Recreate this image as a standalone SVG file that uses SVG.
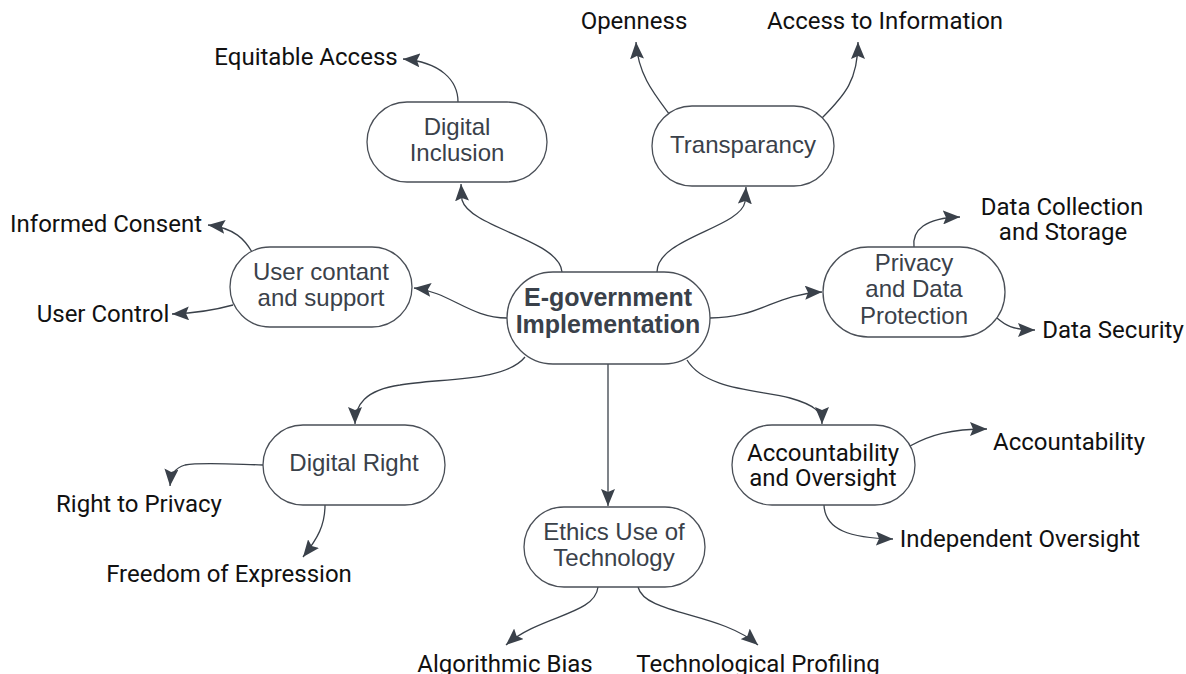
<svg xmlns="http://www.w3.org/2000/svg" width="1186" height="674" viewBox="0 0 1186 674">
  <style>
    .node rect { fill: #ffffff; stroke: #4a4f57; stroke-width: 1.3; }
    .lbl { font-family: "Liberation Sans", Arial, sans-serif; font-size: 24px; fill: #3a414a; text-anchor: middle; }
    .lbl-b { font-family: "Liberation Sans", Arial, sans-serif; font-size: 25px; font-weight: bold; fill: #3a414a; text-anchor: middle; }
    .lbl-r { font-family: Roboto, "Liberation Sans", sans-serif; font-size: 24px; fill: #111111; text-anchor: middle; }
    .leaf { font-family: Roboto, "Liberation Sans", sans-serif; font-size: 24px; fill: #111111; text-anchor: middle; }
    .edge { fill: none; stroke: #3a414a; stroke-width: 1.3; marker-end: url(#arrow); }
  </style>
  <defs>
    <marker id="arrow" markerUnits="userSpaceOnUse" markerWidth="18" markerHeight="14" refX="17" refY="7" orient="auto">
      <path d="M0,0 L17,7 L0,14 L3,7 Z" fill="#3a414a"/>
    </marker>
  </defs>
  <rect width="1186" height="674" fill="#ffffff"/>

  <!-- connectors -->
  <g id="connectors">
    <!-- hub to topics -->
    <path class="edge" d="M562,272 C560,240 470,228 462,200 L461,184"/>
    <path class="edge" d="M657,272 C657,238 740,228 745,202 L746,187"/>
    <path class="edge" d="M507,318 C470,318 450,292 414,288"/>
    <path class="edge" d="M710,318 C760,318 775,294 822,292"/>
    <path class="edge" d="M525,357 C505,382 440,378 400,385 C365,390 355,405 355,424"/>
    <path class="edge" d="M608,364 L608,506"/>
    <path class="edge" d="M687,360 C705,390 760,390 790,398 C815,405 822,412 822,424"/>
    <!-- topics to details -->
    <path class="edge" d="M458,102 C458,80 440,62 403,59"/>
    <path class="edge" d="M670,115 C655,95 638,75 636,42"/>
    <path class="edge" d="M822,118 C845,95 858,80 858,42"/>
    <path class="edge" d="M252,252 C245,240 235,228 208,225"/>
    <path class="edge" d="M233,305 C215,310 200,313 172,314"/>
    <path class="edge" d="M914,247 C912,230 925,218 960,217"/>
    <path class="edge" d="M997,318 C1005,325 1012,330 1035,330"/>
    <path class="edge" d="M263,465 C230,464 200,462 185,465 C175,468 171,474 170,486"/>
    <path class="edge" d="M325,505 C325,525 318,538 303,557"/>
    <path class="edge" d="M598,587 C595,615 540,615 506,645"/>
    <path class="edge" d="M638,587 C645,615 720,612 758,645"/>
    <path class="edge" d="M910,446 C930,435 950,429 987,429"/>
    <path class="edge" d="M824,505 C825,530 850,538 893,539"/>
  </g>

  <!-- topic nodes -->
  <g id="hub" class="node">
    <rect x="507" y="272" width="203" height="92" rx="46"/>
    <text class="lbl-b" x="608" y="306">E-government</text>
    <text class="lbl-b" x="608" y="333">Implementation</text>
  </g>
  <g id="digital-inclusion" class="node">
    <rect x="367" y="102" width="180" height="80" rx="40"/>
    <text class="lbl" x="457" y="135">Digital</text>
    <text class="lbl" x="457" y="161">Inclusion</text>
  </g>
  <g id="transparancy" class="node">
    <rect x="652" y="106" width="182" height="80" rx="40"/>
    <text class="lbl" x="743" y="153">Transparancy</text>
  </g>
  <g id="user-support" class="node">
    <rect x="230" y="247" width="182" height="80" rx="40"/>
    <text class="lbl" x="321" y="280">User contant</text>
    <text class="lbl" x="321" y="306">and support</text>
  </g>
  <g id="privacy" class="node">
    <rect x="823" y="247" width="182" height="90" rx="45"/>
    <text class="lbl" x="914" y="271">Privacy</text>
    <text class="lbl" x="914" y="297">and Data</text>
    <text class="lbl" x="914" y="324">Protection</text>
  </g>
  <g id="digital-right" class="node">
    <rect x="263" y="425" width="182" height="80" rx="40"/>
    <text class="lbl" x="354" y="471">Digital Right</text>
  </g>
  <g id="ethics" class="node">
    <rect x="524" y="507" width="181" height="80" rx="40"/>
    <text class="lbl" x="614" y="540">Ethics Use of</text>
    <text class="lbl" x="614" y="566">Technology</text>
  </g>
  <g id="accountability" class="node">
    <rect x="732" y="425" width="183" height="80" rx="40"/>
    <text class="lbl-r" x="823" y="461">Accountability</text>
    <text class="lbl-r" x="823" y="486">and Oversight</text>
  </g>

  <!-- detail labels -->
  <g id="details">
    <text class="leaf" x="306" y="65">Equitable Access</text>
    <text class="leaf" x="634" y="29">Openness</text>
    <text class="leaf" x="885" y="29">Access to Information</text>
    <text class="leaf" x="106" y="232">Informed Consent</text>
    <text class="leaf" x="103" y="322">User Control</text>
    <text class="leaf" x="1062" y="215">Data Collection</text>
    <text class="leaf" x="1063" y="240">and Storage</text>
    <text class="leaf" x="1113" y="338">Data Security</text>
    <text class="leaf" x="1069" y="450">Accountability</text>
    <text class="leaf" x="1020" y="547">Independent Oversight</text>
    <text class="leaf" x="139" y="512">Right to Privacy</text>
    <text class="leaf" x="229" y="582">Freedom of Expression</text>
    <text class="leaf" x="505" y="672">Algorithmic Bias</text>
    <text class="leaf" x="758" y="672">Technological Profiling</text>
  </g>
</svg>
